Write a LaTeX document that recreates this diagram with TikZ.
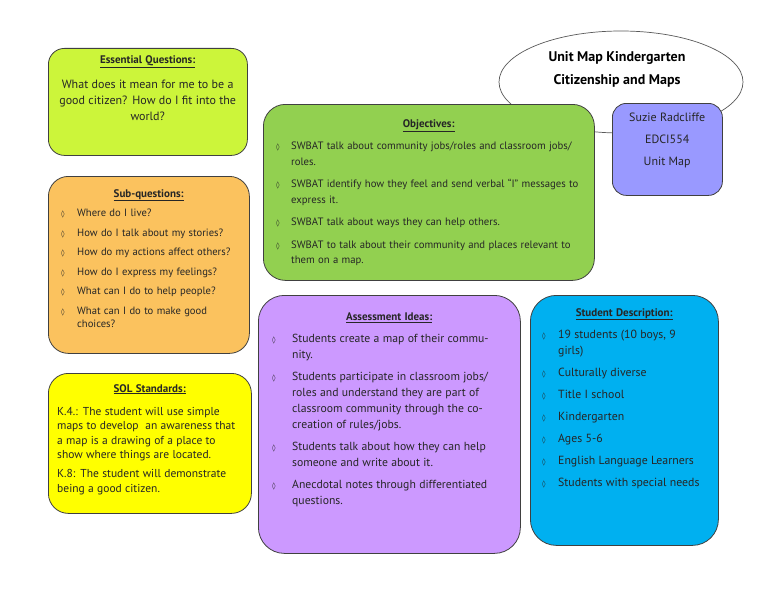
\documentclass[tikz,border=0pt]{standalone}
\usepackage{fontspec}
\setmainfont{PT Sans}
\newfontfamily\umSym{DejaVu Sans}
\usetikzlibrary{positioning,shapes.geometric}
\definecolor{UMLime}{HTML}{CCF53A}
\definecolor{UMOrange}{HTML}{FBC25E}
\definecolor{UMYellow}{HTML}{FFFF00}
\definecolor{UMGreen}{HTML}{92D050}
\definecolor{UMPeri}{HTML}{9999FF}
\definecolor{UMViolet}{HTML}{CC99FF}
\definecolor{UMSky}{HTML}{00B0F0}
\newcommand{\umHead}[1]{{\centering\bfseries\underline{#1}\par}}
\newcommand{\umItem}[2][16pt]{\par\hangindent=#1\hangafter=1\noindent\makebox[#1][l]{\umSym\fontsize{7}{7}\selectfont ◊}#2}
\tikzset{
  umCard/.style={
    rectangle, rounded corners=18pt, draw=black!75, fill=#1,
    line width=0.8pt, anchor=north west, inner sep=0pt
  },
  umCard/.default=UMGreen,
  umText/.style={anchor=north west, inner sep=0pt, align=left, text=black!85},
  umTitle/.style={ellipse, draw=black!65, fill=white, line width=0.7pt, inner sep=0pt}
}
\begin{document}
\begin{tikzpicture}[x=1pt, y=-1pt]
  \useasboundingbox (0,0) rectangle (768,594);

  % title ellipse, partly under the cards
  \node[umTitle, minimum width=244pt, minimum height=102pt] (title) at (621,82) {};
  \node[font=\bfseries\fontsize{14}{23}\selectfont, align=center, inner sep=0pt] (titleT) at (617,69.5)
    {Unit Map Kindergarten\\ Citizenship and Maps};

  \node[umCard=UMLime, rounded corners=16pt, minimum width=199pt, minimum height=107pt] (ess) at (48,48) {};
  \node[umCard=UMOrange, rounded corners=20pt, minimum width=201pt, minimum height=177pt] (subq) at (48,176) {};
  \node[umCard=UMYellow, rounded corners=20pt, minimum width=203pt, minimum height=140pt] (sol) at (48,373) {};
  \node[umCard=UMGreen, rounded corners=22pt, minimum width=331pt, minimum height=176pt] (obj) at (263,104) {};
  \node[umCard=UMPeri, rounded corners=14pt, minimum width=110pt, minimum height=92pt] (suzie) at (612,103) {};
  \node[umCard=UMViolet, rounded corners=26pt, minimum width=262pt, minimum height=258pt] (assess) at (258,295) {};
  \node[umCard=UMSky, rounded corners=26pt, minimum width=188pt, minimum height=250pt] (stud) at (530,295) {};

  % card texts
  \node[umText, align=center, text width=191pt, below right=7pt and 4pt of ess.north west] (essT)
    {\fontsize{12}{16}\selectfont{\fontsize{11}{16}\selectfont\textbf{\underline{Essential Questions:}}}\\[9pt]
     What does it mean for me to be a\\ good citizen? How do I fit into the\\ world?\par};

  \node[umText, text width=175pt, below right=13pt and 13pt of subq.north west] (subqT)
    {\fontsize{10.6}{13.5}\selectfont\setlength{\parskip}{6pt}%
     {\fontsize{11}{13.5}\selectfont\umHead{Sub-questions:}}
     \umItem{Where do I live?}
     \umItem{How do I talk about my stories?}
     \umItem{How do my actions affect others?}
     \umItem{How do I express my feelings?}
     \umItem{What can I do to help people?}
     \umItem{What can I do to make good\newline choices?}\par};

  \node[umText, text width=185pt, below right=11pt and 9pt of sol.north west] (solT)
    {\fontsize{11.5}{14.5}\selectfont\setlength{\parskip}{4.5pt}%
     {\fontsize{11}{14.5}\selectfont\umHead{SOL Standards:}}\vspace{4pt}
     K.4.: The student will use simple\newline maps to develop\ \ an awareness that\newline
     a map is a drawing of a place to\newline show where things are located.\par
     K.8: The student will demonstrate\newline being a good citizen.\par};

  \node[umText, text width=305pt, below right=15pt and 13pt of obj.north west] (objT)
    {\fontsize{10.7}{15.5}\selectfont\setlength{\parskip}{7pt}%
     {\fontsize{11}{15.5}\selectfont\umHead{Objectives:}}
     \umItem[15pt]{SWBAT talk about community jobs/roles and classroom jobs/\newline roles.}
     \umItem[15pt]{SWBAT identify how they feel and send verbal “I” messages to\newline express it.}
     \umItem[15pt]{SWBAT talk about ways they can help others.}
     \umItem[15pt]{SWBAT to talk about their community and places relevant to\newline them on a map.}\par};

  \node[umText, align=center, text width=104pt, below right=10pt and 3pt of suzie.north west] (suzieT)
    {\fontsize{12}{22}\selectfont Suzie Radcliffe\\ EDCI554\\ Unit Map\par};

  \node[umText, text width=234pt, below right=18pt and 14pt of assess.north west] (assessT)
    {\fontsize{11.7}{16}\selectfont\setlength{\parskip}{6pt}%
     {\fontsize{11}{16}\selectfont\umHead{Assessment Ideas:}}
     \umItem[20pt]{Students create a map of their commu-\newline nity.}
     \umItem[20pt]{Students participate in classroom jobs/\newline roles and understand they are part of\newline
       classroom community through the co-\newline creation of rules/jobs.}
     \umItem[20pt]{Students talk about how they can help\newline someone and write about it.}
     \umItem[20pt]{Anecdotal notes through differentiated\newline questions.}\par};

  \node[umText, text width=164pt, below right=13pt and 12pt of stud.north west] (studT)
    {\fontsize{11.8}{16}\selectfont\setlength{\parskip}{6pt}%
     {\fontsize{11}{16}\selectfont\umHead{Student Description:}}
     \umItem{19 students (10 boys, 9\newline girls)}
     \umItem{Culturally diverse}
     \umItem{Title I school}
     \umItem{Kindergarten}
     \umItem{Ages 5-6}
     \umItem{English Language Learners}
     \umItem{Students with special needs}\par};
\end{tikzpicture}
\end{document}
